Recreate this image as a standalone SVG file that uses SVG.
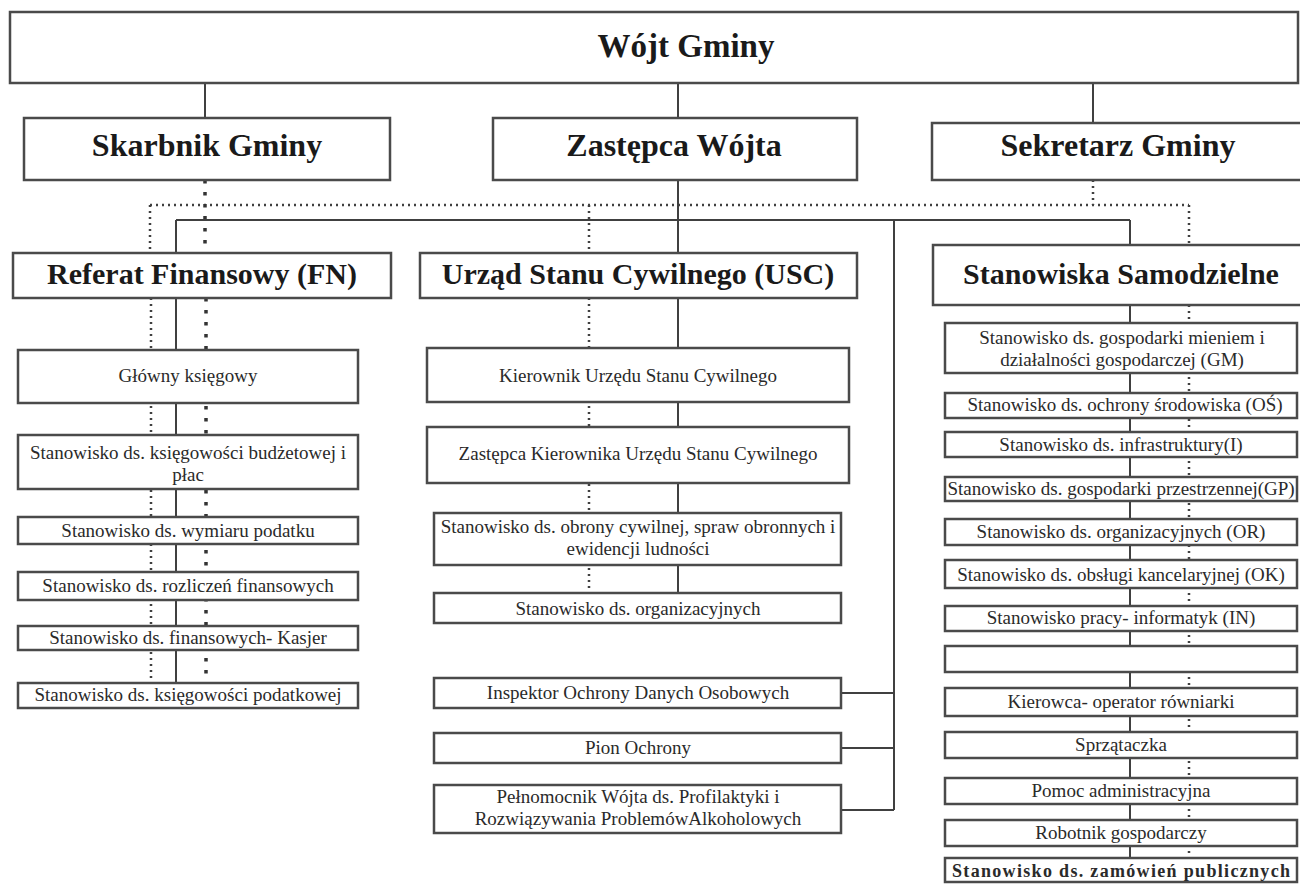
<svg xmlns="http://www.w3.org/2000/svg" width="1300" height="884" viewBox="0 0 1300 884">
<style>
.b{fill:#fff;stroke:#4a4a4a;stroke-width:2.5}
.h{font-family:"Liberation Serif","Times New Roman",serif;font-weight:bold;fill:#1a1a1a;text-anchor:middle}
.h1{font-size:33px}
.h2{font-size:32px}
.h3{font-size:30px}
.t{font-family:"Liberation Serif","Times New Roman",serif;font-size:19px;fill:#2a2a2a;text-anchor:middle}
.tb{font-weight:bold;font-size:18px}
.s{fill:none;stroke:#404040;stroke-width:2}
.d{fill:none;stroke:#404040;stroke-width:2.5;stroke-dasharray:2 4}
.dt{fill:none;stroke:#333;stroke-width:3.5;stroke-dasharray:3.5 8.5}
</style>
<rect width="1300" height="884" fill="#fff"/>
<g id="connectors">
<path class="s" d="M205 83V118M678 83V118M1093 83V123"/>
<path class="d" d="M150 205H1189M150 205V253M589 205V253M1189 205V245M1093 180V205"/>
<path class="dt" d="M205 180V253"/>
<path class="s" d="M678 180V253M176 220H1130M176 220V253M1130 220V245M894 220V810"/>
<path class="d" d="M151 298V683"/>
<path class="s" d="M176 298V683"/>
<path class="dt" d="M206 298V683"/>
<path class="d" d="M589 298V593"/>
<path class="s" d="M678 298V593"/>
<path class="s" d="M841 693H894M841 748H894M841 810H894"/>
<path class="s" d="M1130 305V858"/>
<path class="d" d="M1189 305V858"/>
</g>
<g id="wojt"><rect class="b" x="10" y="12" width="1288" height="71"/><text class="h h1" x="686" y="57">Wójt Gminy</text></g>
<g id="skarbnik"><rect class="b" x="24" y="118" width="366" height="62"/><text class="h h2" x="207" y="156">Skarbnik Gminy</text></g>
<g id="zastepca"><rect class="b" x="493" y="118" width="364" height="62"/><text class="h h2" x="674" y="156">Zastępca Wójta</text></g>
<g id="sekretarz"><rect class="b" x="932" y="123" width="380" height="57"/><text class="h h2" x="1118" y="156">Sekretarz Gminy</text></g>
<g id="referat"><rect class="b" x="13" y="253" width="378" height="45"/><text class="h h3" x="202" y="284">Referat Finansowy (FN)</text></g>
<g id="usc"><rect class="b" x="420" y="253" width="437" height="45"/><text class="h h3" x="638" y="284">Urząd Stanu Cywilnego (USC)</text></g>
<g id="samodzielne"><rect class="b" x="933" y="245" width="380" height="60"/><text class="h h3" x="1121" y="284">Stanowiska Samodzielne</text></g>
<g id="fn1"><rect class="b" x="18" y="350" width="340" height="53"/><text class="t" x="188" y="382">Główny księgowy</text></g>
<g id="fn2"><rect class="b" x="18" y="435" width="340" height="54"/><text class="t" x="188" y="459">Stanowisko ds. księgowości budżetowej i</text><text class="t" x="188" y="481">płac</text></g>
<g id="fn3"><rect class="b" x="18" y="517" width="340" height="27"/><text class="t" x="188" y="537">Stanowisko ds. wymiaru podatku</text></g>
<g id="fn4"><rect class="b" x="18" y="572" width="340" height="28"/><text class="t" x="188" y="592">Stanowisko ds. rozliczeń finansowych</text></g>
<g id="fn5"><rect class="b" x="18" y="626" width="340" height="24"/><text class="t" x="188" y="644">Stanowisko ds. finansowych- Kasjer</text></g>
<g id="fn6"><rect class="b" x="18" y="683" width="340" height="25"/><text class="t" x="188" y="701">Stanowisko ds. księgowości podatkowej</text></g>
<g id="usc1"><rect class="b" x="427" y="348" width="422" height="54"/><text class="t" x="638" y="382">Kierownik Urzędu Stanu Cywilnego</text></g>
<g id="usc2"><rect class="b" x="427" y="427" width="422" height="56"/><text class="t" x="638" y="460">Zastępca Kierownika Urzędu Stanu Cywilnego</text></g>
<g id="usc3"><rect class="b" x="434" y="513" width="407" height="52"/><text class="t" x="638" y="533">Stanowisko ds. obrony cywilnej, spraw obronnych i</text><text class="t" x="638" y="555">ewidencji ludności</text></g>
<g id="usc4"><rect class="b" x="434" y="593" width="407" height="30"/><text class="t" x="638" y="615">Stanowisko ds. organizacyjnych</text></g>
<g id="iodo"><rect class="b" x="434" y="678" width="407" height="30"/><text class="t" x="638" y="699">Inspektor Ochrony Danych Osobowych</text></g>
<g id="pion"><rect class="b" x="434" y="733" width="407" height="30"/><text class="t" x="638" y="754">Pion Ochrony</text></g>
<g id="pelnomocnik"><rect class="b" x="434" y="785" width="407" height="48"/><text class="t" x="638" y="803">Pełnomocnik Wójta ds. Profilaktyki i</text><text class="t" x="638" y="825">Rozwiązywania ProblemówAlkoholowych</text></g>
<g id="gm"><rect class="b" x="945" y="323" width="352" height="50"/><text class="t" x="1122" y="344">Stanowisko ds. gospodarki mieniem i</text><text class="t" x="1122" y="366">działalności gospodarczej (GM)</text></g>
<g id="os"><rect class="b" x="945" y="393" width="352" height="25"/><text class="t" x="1125" y="411">Stanowisko ds. ochrony środowiska (OŚ)</text></g>
<g id="inf"><rect class="b" x="945" y="432" width="352" height="25"/><text class="t" x="1121" y="451">Stanowisko ds. infrastruktury(I)</text></g>
<g id="gp"><rect class="b" x="945" y="477" width="352" height="24"/><text class="t" x="1121" y="495">Stanowisko ds. gospodarki przestrzennej(GP)</text></g>
<g id="or"><rect class="b" x="945" y="519" width="352" height="26"/><text class="t" x="1121" y="538">Stanowisko ds. organizacyjnych (OR)</text></g>
<g id="ok"><rect class="b" x="945" y="560" width="352" height="28"/><text class="t" x="1121" y="581">Stanowisko ds. obsługi kancelaryjnej (OK)</text></g>
<g id="in"><rect class="b" x="945" y="606" width="352" height="25"/><text class="t" x="1121" y="624">Stanowisko pracy- informatyk (IN)</text></g>
<g id="empty"><rect class="b" x="945" y="646" width="352" height="26"/></g>
<g id="kierowca"><rect class="b" x="945" y="688" width="352" height="28"/><text class="t" x="1121" y="708">Kierowca- operator równiarki</text></g>
<g id="sprzataczka"><rect class="b" x="945" y="732" width="352" height="26"/><text class="t" x="1121" y="751">Sprzątaczka</text></g>
<g id="pomoc"><rect class="b" x="945" y="778" width="352" height="26"/><text class="t" x="1121" y="797">Pomoc administracyjna</text></g>
<g id="robotnik"><rect class="b" x="945" y="820" width="352" height="26"/><text class="t" x="1121" y="839">Robotnik gospodarczy</text></g>
<g id="zamowienia"><rect class="b" x="945" y="858" width="352" height="24"/><text class="t tb" x="1121" y="877" textLength="338" lengthAdjust="spacing">Stanowisko ds. zamówień publicznych</text></g>
</svg>
